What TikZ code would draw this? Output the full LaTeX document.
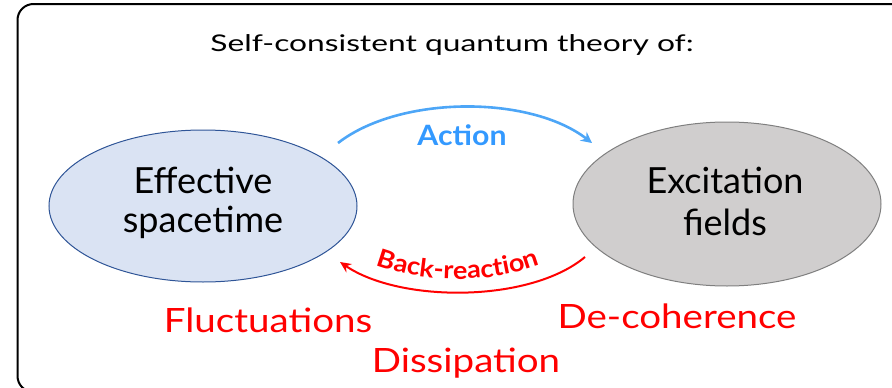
\documentclass[tikz,border=0pt]{standalone}
\usepackage{fontspec}
\setmainfont{Lato}
\newfontfamily\titlefont[FakeStretch=1.38]{Lato}
\newfontfamily\redfont[FakeStretch=1.15]{Lato}
\newfontfamily\boldwide[FakeStretch=1.08]{Lato}
\usetikzlibrary{arrows.meta,decorations.text,shapes.geometric}
\definecolor{lblue}{HTML}{DAE3F3}
\definecolor{dblue}{HTML}{2F5597}
\definecolor{lgray}{HTML}{D0CECE}
\definecolor{dgray}{HTML}{7F7F7F}
\definecolor{actblue}{HTML}{4DA6F7}
\definecolor{txtblue}{HTML}{3399FF}
\definecolor{myred}{HTML}{FF0000}
\tikzset{
  blob/.style={ellipse, line width=1pt, inner sep=0pt},
  blobtext/.style={anchor=base, inner sep=0pt, align=center},
  redlabel/.style={text=myred, anchor=base, inner sep=0pt, font=\redfont\fontsize{33.5}{36}\selectfont},
}
\begin{document}
\begin{tikzpicture}[x=1pt,y=-1pt]
\useasboundingbox (0,0) rectangle (892,388);
\clip (0,0) rectangle (892,388);
\draw[line width=2pt, rounded corners=16pt] (17.5,4) rectangle (920,392);
\node[anchor=base, inner sep=0pt, font=\titlefont\fontsize{23}{28}\selectfont] (title) at (452,51) {Self-consistent quantum theory of:};
\node[blob, draw=dblue, fill=lblue, minimum width=308pt, minimum height=152pt] (L) at (203,206) {};
\node[blob, draw=dgray, fill=lgray, minimum width=308pt, minimum height=164pt] (R) at (727,204) {};
\node[blobtext, font=\fontsize{36}{39}\selectfont] (Lt) at (203,232) {Effective\\spacetime};
\node[blobtext, font=\fontsize{36}{42}\selectfont] (Rt) at (725,235) {Excitation\\fields};
\coordinate (a1) at (338,143);
\coordinate (a2) at (592,143);
\draw[actblue, line width=2.6pt, -{Stealth[length=11pt,width=11pt]}] (a1) .. controls (400,95) and (530,95) .. (a2);
\node[text=txtblue, anchor=base, inner sep=0pt, font=\boldwide\bfseries\fontsize{28}{30}\selectfont] (act) at (462,145) {Action};
\coordinate (b1) at (585,257);
\coordinate (b2) at (340,262);
\draw[myred, line width=2pt, -{Stealth[length=11pt,width=10pt]}] (b1) .. controls (530,303) and (400,303) .. (b2);
\path[decorate, decoration={text along path, text align=center, text={|\boldwide\bfseries\fontsize{25}{28}\selectfont\color{myred}|Back-reaction}}] (366,261) .. controls (420,285) and (495,285) .. (550,261);
\node[redlabel] (fl) at (268,332) {Fluctuations};
\node[redlabel] (dc) at (677,328) {De-coherence};
\node[redlabel] (ds) at (466,372) {Dissipation};
\end{tikzpicture}
\end{document}
